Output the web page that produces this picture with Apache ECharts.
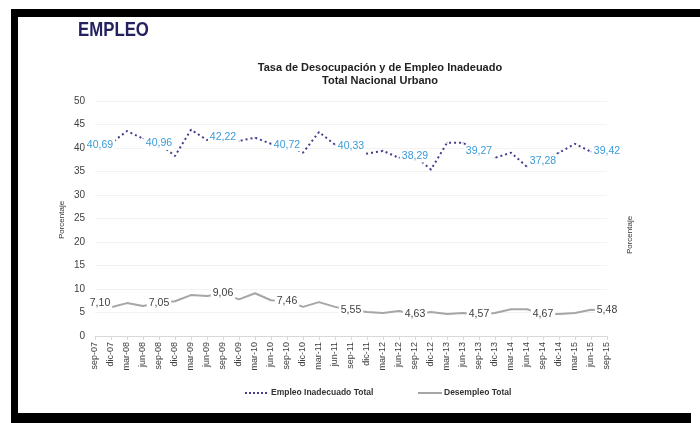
<!DOCTYPE html>
<html>
<head>
<meta charset="utf-8">
<script src="https://cdn.jsdelivr.net/npm/echarts@6/dist/echarts.min.js"></script>
<style>html,body{margin:0;padding:0;background:#fff;}#c{width:700px;height:423px;}</style>
</head>
<body>
<div id="c"></div>
<script>
var categories = ['sep-07','dic-07','mar-08','jun-08','sep-08','dic-08','mar-09','jun-09','sep-09','dic-09','mar-10','jun-10','sep-10','dic-10','mar-11','jun-11','sep-11','dic-11','mar-12','jun-12','sep-12','dic-12','mar-13','jun-13','sep-13','dic-13','mar-14','jun-14','sep-14','dic-14','mar-15','jun-15','sep-15'];
var empleoInadecuado = [40.69,41.0,43.6,42.0,40.96,38.3,43.9,41.7,42.22,41.5,42.2,40.9,40.72,39.0,43.4,40.7,40.33,38.8,39.4,37.9,38.29,35.4,41.1,41.1,39.27,37.9,39.0,36.0,37.28,39.0,40.9,39.2,39.42];
var desempleo = [7.10,6.1,7.0,6.4,7.05,7.4,8.7,8.5,9.06,7.8,9.1,7.6,7.46,6.2,7.2,6.2,5.55,5.1,4.9,5.3,4.63,5.1,4.7,4.9,4.57,4.9,5.7,5.7,4.67,4.7,4.9,5.6,5.48];
var yTicks = {min: 0, max: 50, interval: 5};
var seriesNames = ['Empleo Inadecuado Total', 'Desempleo Total'];

function fmt(v){ return v.toFixed(2).replace('.', ','); }
function withLabels(arr, color){
  return arr.map(function(v, i){
    if (i % 4 === 0) {
      return {value: v, label: {show: true, color: color, offset: i === 0 ? [5, 0] : [0, 0]}};
    }
    return v;
  });
}

var chart = echarts.init(document.getElementById('c'));
var font = "'Liberation Sans', Arial, sans-serif";
chart.setOption({
  animation: false,
  textStyle: {fontFamily: font},
  graphic: [
    {type: 'rect', shape: {x: 11, y: 9, width: 689, height: 8}, style: {fill: '#000'}},
    {type: 'rect', shape: {x: 11, y: 9, width: 7, height: 414}, style: {fill: '#000'}},
    {type: 'rect', shape: {x: 11, y: 413, width: 680, height: 10}, style: {fill: '#000'}},
    {type: 'text', x: 78, y: 30, scaleX: 0.8, style: {text: 'EMPLEO', fill: '#25215e', font: "bold 21px 'Liberation Sans', sans-serif", verticalAlign: 'middle'}},
    {type: 'text', x: 62, y: 220, rotation: Math.PI/2, style: {text: 'Porcentaje', fill: '#333', font: "8px 'Liberation Sans', sans-serif", align: 'center', verticalAlign: 'middle'}},
    {type: 'text', x: 630, y: 235, rotation: Math.PI/2, style: {text: 'Porcentaje', fill: '#333', font: "8px 'Liberation Sans', sans-serif", align: 'center', verticalAlign: 'middle'}},
    {type: 'line', shape: {x1: 245, y1: 393, x2: 268, y2: 393}, style: {stroke: '#433f8c', lineWidth: 2, lineDash: [2, 2]}},
    {type: 'text', x: 271, y: 393, style: {text: seriesNames[0], fill: '#333', font: "bold 8.5px 'Liberation Sans', sans-serif", verticalAlign: 'middle'}},
    {type: 'line', shape: {x1: 418, y1: 393, x2: 442, y2: 393}, style: {stroke: '#a6a6a6', lineWidth: 2}},
    {type: 'text', x: 444, y: 393, style: {text: seriesNames[1], fill: '#333', font: "bold 8.5px 'Liberation Sans', sans-serif", verticalAlign: 'middle'}}
  ],
  title: {
    text: 'Tasa de Desocupación y de Empleo Inadeuado\nTotal Nacional Urbano',
    left: 375, top: 56, textAlign: 'center',
    textStyle: {fontSize: 11, fontWeight: 'bold', color: '#222', lineHeight: 13, fontFamily: font}
  },
  grid: {left: 95, right: 93, top: 101, bottom: 87, containLabel: false},
  xAxis: {
    type: 'category', data: categories, boundaryGap: false,
    axisLine: {lineStyle: {color: '#d9d9d9'}},
    axisTick: {show: true, alignWithLabel: true, length: 4, lineStyle: {color: '#d9d9d9'}},
    axisLabel: {rotate: 90, fontSize: 9, color: '#404040', interval: 0, margin: 6}
  },
  yAxis: {
    type: 'value', min: yTicks.min, max: yTicks.max, interval: yTicks.interval,
    axisLine: {show: false}, axisTick: {show: false},
    splitLine: {lineStyle: {color: '#f2f2f2'}},
    axisLabel: {fontSize: 10, color: '#404040', margin: 10}
  },
  series: [
    {
      name: seriesNames[0], type: 'line',
      data: withLabels(empleoInadecuado, '#3b9ad6'),
      symbol: 'circle', symbolSize: 1, showSymbol: true,
      itemStyle: {color: '#433f8c'},
      lineStyle: {color: '#433f8c', width: 2, type: [2, 3]},
      label: {show: false, position: 'inside', fontSize: 10.5, formatter: function(p){ return fmt(p.value); }, backgroundColor: '#fff', padding: [1, 2]},
      z: 3
    },
    {
      name: seriesNames[1], type: 'line',
      data: withLabels(desempleo, '#404040'),
      symbol: 'circle', symbolSize: 1, showSymbol: true,
      itemStyle: {color: '#a6a6a6'},
      lineStyle: {color: '#a6a6a6', width: 2},
      label: {show: false, position: 'inside', fontSize: 10.5, formatter: function(p){ return fmt(p.value); }, backgroundColor: '#fff', padding: [1, 2]},
      z: 2
    }
  ]
});
</script>
</body>
</html>
